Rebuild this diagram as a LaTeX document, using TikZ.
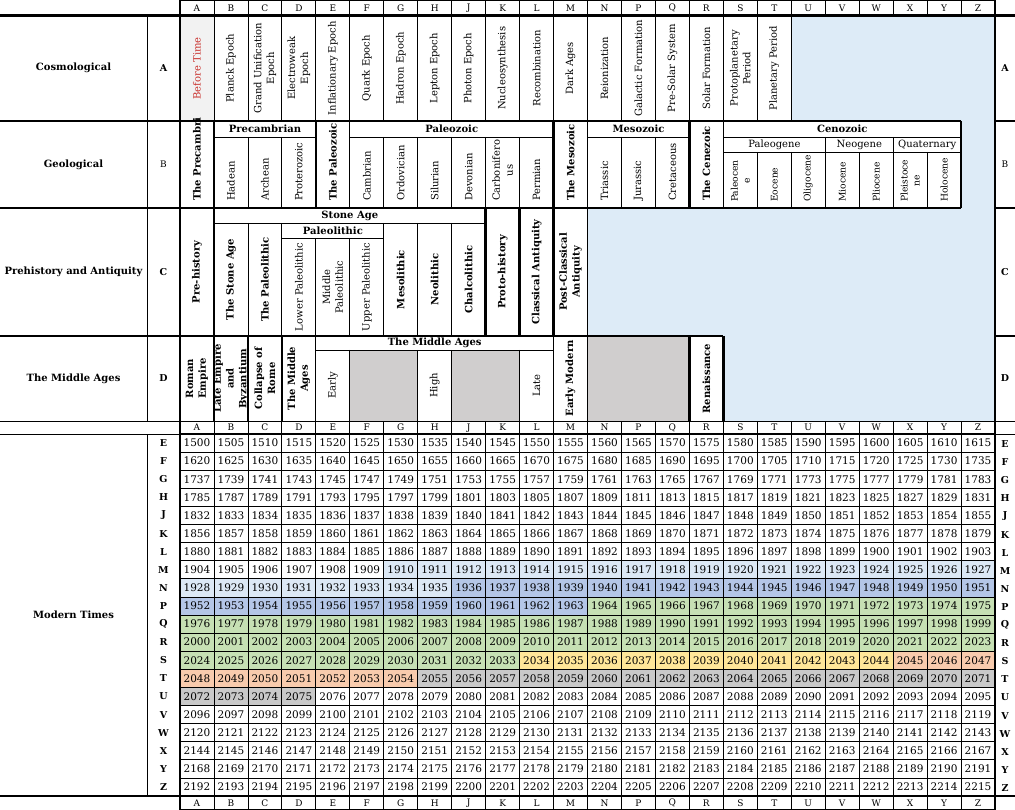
\documentclass[tikz,border=0pt]{standalone}
\usepackage{fontspec}
\setmainfont{DejaVu Serif}
\usepackage{tikz}

\definecolor{skyfill}{HTML}{DDEBF7}
\definecolor{paleblue}{HTML}{DCE8F5}
\definecolor{midblue}{HTML}{B4C6E7}
\definecolor{leafgreen}{HTML}{C6E0B4}
\definecolor{sunyellow}{HTML}{FFE699}
\definecolor{peach}{HTML}{F8CBAD}
\definecolor{stonegray}{HTML}{C9C9C9}
\definecolor{ashgray}{HTML}{D0CECE}
\definecolor{voidgray}{HTML}{F2F2F2}
\definecolor{voidred}{HTML}{C9302C}

\tikzset{
	gridline/.style={line width=0.8pt},
	frameline/.style={line width=2.6pt},
	midline/.style={line width=1.4pt},
	vtext/.style={rotate=90,inner sep=0pt,align=center,font=\fontsize{10}{12.8}\selectfont},
	vsmall/.style={vtext,font=\fontsize{9.2}{12}\selectfont},
	vbold/.style={vtext,font=\fontsize{10}{12.8}\selectfont\bfseries},
	htext/.style={inner sep=0pt,font=\fontsize{10}{11}\selectfont},
	hbold/.style={htext,font=\fontsize{10}{11}\selectfont\bfseries},
	rowlab/.style={inner sep=0pt,font=\fontsize{10}{12}\selectfont\bfseries},
	colhead/.style={inner sep=0pt,font=\fontsize{9}{10}\selectfont},
	sidelab/.style={inner sep=0pt,font=\fontsize{9.5}{10}\selectfont\bfseries},
	yearnum/.style={inner sep=0pt,font=\fontsize{10.5}{11}\selectfont}
}

\begin{document}
\begin{tikzpicture}[x=1pt,y=-1pt]
\useasboundingbox (0,0) rectangle (1015,810);
\def\cw{33.96}
\def\rh{18.1}

\fill[voidgray] (180,15.7) rectangle (213.96,121);
\fill[skyfill] (791.3,15.7) -- (995,15.7) -- (995,421) -- (723.4,421) -- (723.4,336) -- (587.5,336) -- (587.5,208) -- (961.1,208) -- (961.1,121) -- (791.3,121) -- cycle;
\fill[ashgray] (349.8,350) rectangle (417.7,421);
\fill[ashgray] (451.7,350) rectangle (519.6,421);
\fill[ashgray] (587.5,336) rectangle (689.4,421);

% years
\foreach \r/\rl in {0/E,1/F,2/G,3/H,4/J,5/K,6/L,7/M,8/N,9/P,10/Q,11/R,12/S,13/T,14/U,15/V,16/W,17/X,18/Y,19/Z} {
	\pgfmathsetmacro\ytop{434+\r*\rh}
	\node[sidelab] (l\rl) at (163.5,\ytop+\rh/2) {\rl};
	\node[sidelab] (r\rl) at (1005,\ytop+\rh/2+1) {\rl};
	\foreach \c in {0,...,23} {
		\pgfmathtruncatemacro\n{\r*24+\c}
		\pgfmathtruncatemacro\yr{\r==0 ? 1500+5*\c : (\r==1 ? 1620+5*\c : (\r==2 ? 1737+2*\c : (\r==3 ? 1785+2*\c : 1832+(\r-4)*24+\c)))}
		\def\shade{white}
		\ifnum\n>173 \def\shade{paleblue}\fi
		\ifnum\n>199 \def\shade{midblue}\fi
		\ifnum\n>227 \def\shade{leafgreen}\fi
		\ifnum\n>297 \def\shade{sunyellow}\fi
		\ifnum\n>308 \def\shade{peach}\fi
		\ifnum\n>318 \def\shade{stonegray}\fi
		\ifnum\n>339 \def\shade{white}\fi
		\fill[\shade] (180+\c*\cw,\ytop) rectangle ++(\cw,\rh);
		\node[yearnum] (n\yr) at (180+\c*\cw+\cw/2,\ytop+\rh/2) {\yr};
	}
}

\foreach \c/\ltr in {0/A,1/B,2/C,3/D,4/E,5/F,6/G,7/H,8/J,9/K,10/L,11/M,12/N,13/P,14/Q,15/R,16/S,17/T,18/U,19/V,20/W,21/X,22/Y,23/Z} {
	\node[colhead] (top\ltr) at (180+\c*\cw+\cw/2,8) {\ltr};
	\node[colhead] (mid\ltr) at (180+\c*\cw+\cw/2,427.7) {\ltr};
	\node[colhead] (bot\ltr) at (180+\c*\cw+\cw/2,803.3) {\ltr};
}

\foreach \nm/\ym/\txt in {cos/68.3/Cosmological,geo/164.5/Geological,pre/272/Prehistory and Antiquity,mid/378.5/The Middle Ages,mod/615/Modern Times}
	\node[rowlab] (lab\nm) at (73.5,\ym) {\txt};
\node[sidelab] (lA) at (163.5,68.3) {A};
\node[colhead] (lB) at (163.5,164.5) {B};
\node[sidelab] (lC) at (163.5,272) {C};
\node[sidelab] (lD) at (163.5,378.5) {D};
\node[sidelab] (rA) at (1005,68.3) {A};
\node[colhead] (rB) at (1005,164.5) {B};
\node[sidelab] (rC) at (1005,272) {C};
\node[sidelab] (rD) at (1005,378.5) {D};

% cosmological
\node[vtext,text=voidred] (cos0) at (180+\cw/2,68.3) {Before Time};
\foreach \c/\txt in {1/Planck Epoch,2/{Grand Unification\\Epoch},3/{Electroweak\\Epoch},4/Inflationary Epoch,5/Quark Epoch,6/Hadron Epoch,7/Lepton Epoch,8/Photon Epoch,9/Nucleosynthesis,10/Recombination,11/Dark Ages,12/Reionization,13/Galactic Formation,14/Pre-Solar System,15/Solar Formation,16/{Protoplanetary\\Period},17/Planetary Period}
	\node[vtext] (cos\c) at (180+\c*\cw+\cw/2,68.3) {\txt};

% geological
\node[hbold] (precam) at (265,129) {Precambrian};
\node[hbold] (paleoz) at (451.7,129) {Paleozoic};
\node[hbold] (mesoz) at (638.5,129) {Mesozoic};
\node[hbold] (cenoz) at (842.3,129) {Cenozoic};
\node[htext] (paleog) at (774.4,144.8) {Paleogene};
\node[htext] (neog) at (859.3,144.8) {Neogene};
\node[htext] (quat) at (927.2,144.8) {Quaternary};
\foreach \c/\txt in {0/The Precambri,4/The Paleozoic,11/The Mesozoic,15/The Cenezoic}
	\node[vbold,anchor=west] (geo\c) at (180+\c*\cw+\cw/2,201) {\txt};
\foreach \c/\txt in {1/Hadean,2/Archean,3/Proterozoic,5/Cambrian,6/Ordovician,7/Silurian,8/Devonian,9/{Carbonifero\\us},10/Permian,12/Triassic,13/Jurassic,14/Cretaceous}
	\node[vtext,anchor=west] (geo\c) at (180+\c*\cw+\cw/2,201) {\txt};
\foreach \c/\txt in {16/{Paleocen\\e},17/Eocene,18/Oligocene,19/Miocene,20/Pliocene,21/{Pleistoce\\ne},22/Holocene}
	\node[vsmall,anchor=west] (geo\c) at (180+\c*\cw+\cw/2,202) {\txt};

% prehistory
\node[hbold] (stone) at (349.8,215.8) {Stone Age};
\node[hbold] (paleol) at (332.9,230.8) {Paleolithic};
\foreach \c/\ym/\txt in {0/272/Pre-history,1/279.5/The Stone Age,2/279.5/The Paleolithic,6/279.5/Mesolithic,7/279.5/Neolithic,8/279.5/Chalcolithic,9/272/Proto-history,10/272/Classical Antiquity,11/272/{Post-Classical\\Antiquity}}
	\node[vbold] (pre\c) at (180+\c*\cw+\cw/2,\ym) {\txt};
\foreach \c/\txt in {3/Lower Paleolithic,4/{Middle\\Paleolithic},5/Upper Paleolithic}
	\node[vtext] (pre\c) at (180+\c*\cw+\cw/2,287) {\txt};

% middle ages
\node[hbold] (midages) at (434.7,343.2) {The Middle Ages};
\foreach \c/\txt in {0/{Roman\\Empire},2/{Collapse of\\Rome},3/{The Middle\\Ages},11/Early Modern,15/Renaissance}
	\node[vbold] (mid\c) at (180+\c*\cw+\cw/2,378.5) {\txt};
\begin{scope}
	\clip (213.96,336) rectangle (247.92,421);
	\node[vbold] (mid1) at (180+1.5*\cw,378.5) {Late Empire\\and\\Byzantium};
\end{scope}
\foreach \c/\txt in {4/Early,7/High,10/Late}
	\node[vtext] (mid\c) at (180+\c*\cw+\cw/2,385.5) {\txt};

% thin rules
\foreach \c in {1,...,23} {
	\draw[gridline] (180+\c*\cw,0) -- (180+\c*\cw,15.7);
	\draw[gridline] (180+\c*\cw,421) -- (180+\c*\cw,810);
}
\foreach \r in {1,...,19}
	\draw[gridline] (180,434+\r*\rh) -- (995,434+\r*\rh);
\foreach \c in {1,...,18}
	\draw[gridline] (180+\c*\cw,15.7) -- (180+\c*\cw,121);
\draw[gridline] (213.96,137) -- (315.8,137) (349.8,137) -- (553.6,137) (587.5,137) -- (689.4,137) (723.4,137) -- (961.1,137) (723.4,152) -- (961.1,152);
\foreach \c in {2,3,6,7,8,9,10,13,14,19,21}
	\draw[gridline] (180+\c*\cw,137) -- (180+\c*\cw,208);
\foreach \c in {17,18,20,22}
	\draw[gridline] (180+\c*\cw,152) -- (180+\c*\cw,208);
\foreach \c in {5,12,16}
	\draw[gridline] (180+\c*\cw,121) -- (180+\c*\cw,208);
\draw[gridline] (213.96,223) -- (485.6,223) (281.9,238) -- (383.8,238);
\foreach \c in {2,3,6,7,8}
	\draw[gridline] (180+\c*\cw,223) -- (180+\c*\cw,336);
\foreach \c in {4,5}
	\draw[gridline] (180+\c*\cw,238) -- (180+\c*\cw,336);
\draw[gridline] (180+12*\cw,208) -- (180+12*\cw,336);
\draw[gridline] (315.8,350) -- (553.6,350);
\foreach \c in {5,7,8,10}
	\draw[gridline] (180+\c*\cw,350) -- (180+\c*\cw,421);
\foreach \c in {4,11,12}
	\draw[gridline] (180+\c*\cw,336) -- (180+\c*\cw,421);
\draw[gridline] (147,15.7) -- (147,421) (147,434) -- (147,796);
\draw[gridline] (0,421) -- (1015,421) (0,434) -- (180,434) (995,434) -- (1015,434);
\draw[midline] (180,434) -- (995,434);

% thick rules
\foreach \c in {1,4,11,15,23}
	\draw[frameline] (180+\c*\cw,121) -- (180+\c*\cw,208);
\foreach \c in {1,9,10,11}
	\draw[frameline] (180+\c*\cw,208) -- (180+\c*\cw,336);
\foreach \c in {1,2,3,15,16}
	\draw[frameline] (180+\c*\cw,336) -- (180+\c*\cw,421);
\draw[frameline] (0,15.7) -- (1015,15.7);
\draw[frameline] (0,121) -- (961.1,121) (995,121) -- (1015,121);
\draw[frameline] (0,208) -- (961.1,208) (995,208) -- (1015,208);
\draw[frameline] (0,336) -- (723.4,336) (995,336) -- (1015,336);
\draw[frameline] (0,796) -- (1015,796);
\draw[frameline] (180,0) rectangle (995,810);
\end{tikzpicture}
\end{document}
